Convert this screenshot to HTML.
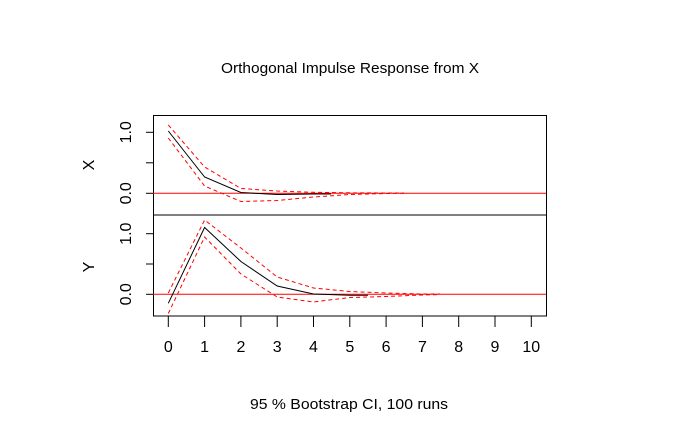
<!DOCTYPE html>
<html><head><meta charset="utf-8"><style>body{margin:0;background:#fff}svg{display:block}</style></head>
<body>
<svg width="700" height="432" viewBox="0 0 700 432" xmlns="http://www.w3.org/2000/svg" font-family="Liberation Sans, sans-serif">
<rect width="700" height="432" fill="#fff"/>
<text x="350" y="73" font-size="15" text-anchor="middle" textLength="258" lengthAdjust="spacingAndGlyphs">Orthogonal Impulse Response from X</text>
<text x="349" y="409" font-size="15" text-anchor="middle" textLength="198" lengthAdjust="spacingAndGlyphs">95 % Bootstrap CI,  100 runs</text>
<g fill="none" stroke="#000" stroke-width="1">
<rect x="153.5" y="115.5" width="393" height="200.5"/>
<line x1="153" y1="215" x2="547" y2="215"/>
<!-- y ticks -->
<line x1="146" y1="132.3" x2="153" y2="132.3"/><line x1="146" y1="162.8" x2="153" y2="162.8"/><line x1="146" y1="193.3" x2="153" y2="193.3"/>
<line x1="146" y1="233.7" x2="153" y2="233.7"/><line x1="146" y1="264" x2="153" y2="264"/><line x1="146" y1="294.3" x2="153" y2="294.3"/>
<!-- x ticks -->
<path d="M168.3 316v11M204.6 316v11M240.9 316v11M277.2 316v11M313.5 316v11M349.8 316v11M386.1 316v11M422.4 316v11M458.7 316v11M495 316v11M531.3 316v11"/>
</g>
<g font-size="16" text-anchor="middle">
<text x="168.3" y="352">0</text><text x="204.6" y="352">1</text><text x="240.9" y="352">2</text><text x="277.2" y="352">3</text><text x="313.5" y="352">4</text><text x="349.8" y="352">5</text><text x="386.1" y="352">6</text><text x="422.4" y="352">7</text><text x="458.7" y="352">8</text><text x="495" y="352">9</text><text x="531.3" y="352">10</text>
<text transform="translate(131,132.3) rotate(-90)">1.0</text>
<text transform="translate(131,193.3) rotate(-90)">0.0</text>
<text transform="translate(131,233.7) rotate(-90)">1.0</text>
<text transform="translate(131,294.3) rotate(-90)">0.0</text>
<text transform="translate(94,165) rotate(-90)">X</text>
<text transform="translate(94,267) rotate(-90)">Y</text>
</g>
<!-- top panel -->
<line x1="153" y1="193.3" x2="546" y2="193.3" stroke="#f00" stroke-width="1"/>
<polyline fill="none" stroke="#000" stroke-width="1" points="168.3,131 204.6,177 240.9,192.5 277.2,194.5 313.5,194 331,194"/>
<polyline fill="none" stroke="#f00" stroke-width="1" stroke-dasharray="4,3" points="168.3,125 204.6,167 240.9,188.5 277.2,191 313.5,192.3 349.8,192.8 386.1,193 404,193"/>
<polyline fill="none" stroke="#f00" stroke-width="1" stroke-dasharray="4,3" points="168.3,138 204.6,186 240.9,201.5 277.2,200.5 313.5,197 349.8,194.5 386.1,193.5 404,193.3"/>
<!-- bottom panel -->
<line x1="153" y1="294.3" x2="546" y2="294.3" stroke="#f00" stroke-width="1"/>
<polyline fill="none" stroke="#000" stroke-width="1" points="168.3,303.3 204.6,227.5 240.9,261.5 277.2,286 313.5,294 349.8,295.3 368,295.3"/>
<polyline fill="none" stroke="#f00" stroke-width="1" stroke-dasharray="4,3" points="168.3,293 204.6,220 240.9,248 277.2,277 313.5,288 349.8,291.5 386.1,293 422.4,294 440,294"/>
<polyline fill="none" stroke="#f00" stroke-width="1" stroke-dasharray="4,3" points="168.3,313.5 204.6,237 240.9,274 277.2,297 313.5,302 349.8,297.5 386.1,296.5 422.4,295 440,294.5"/>
</svg>
</body></html>
